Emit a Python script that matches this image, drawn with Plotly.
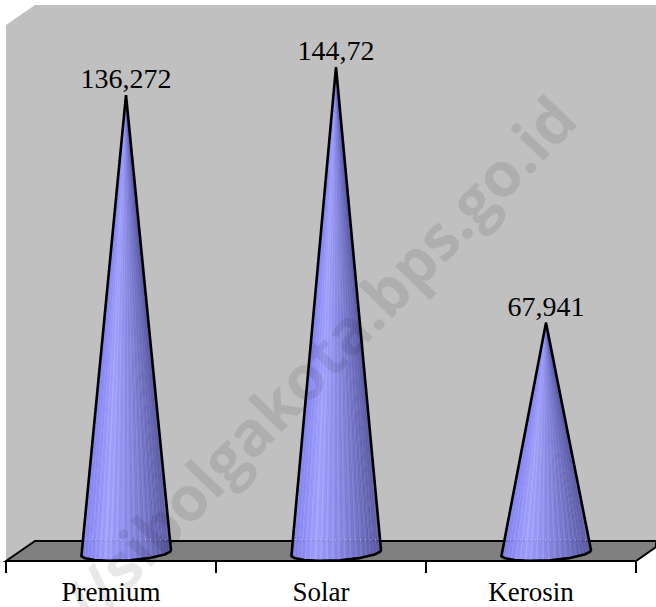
import numpy as np
import plotly.graph_objects as go

categories = ["Premium", "Solar", "Kerosin"]
values = [136.272, 144.72, 67.941]
value_labels = ["136,272", "144,72", "67,941"]
tick_edges = [-0.5, 0.5, 1.5, 2.5]

W, H = 656, 607
AXIS_PX = 561
PX_PER_UNIT = 3.33
ZERO_PX = 549
SERIF = "Liberation Serif"


def px_x(p):
    return p / W


def px_y(p):
    return 1 - p / H


y_top = ZERO_PX / PX_PER_UNIT
y_bot = (ZERO_PX - AXIS_PX) / PX_PER_UNIT
x_left = -111 / 210
x_right = (W - 111) / 210

stops = [(0.0, (125, 125, 240)), (0.28, (158, 158, 255)), (0.6, (128, 128, 218)), (1.0, (85, 85, 160))]


def grad(t, lift=0):
    ts = [s[0] for s in stops]
    c = [min(255, np.interp(t, ts, [s[1][i] for s in stops]) + lift) for i in range(3)]
    return "rgb(%d,%d,%d)" % tuple(int(round(v)) for v in c)


CX = 15 / 210
HALF = 45 / 210
BASE = -3.5 / PX_PER_UNIT
TILT = 2.5 / PX_PER_UNIT
DEPTH = 8 / PX_PER_UNIT

fig = go.Figure()


def arc(t):
    return -HALF * np.cos(t), BASE + TILT * np.cos(t) * -1 - DEPTH * np.sin(t)


for i, v in enumerate(values):
    cx = i + CX
    n = 70
    ts = np.linspace(0, np.pi, n + 1)
    ax, ay = arc(ts)
    for k in range(n):
        tt = (ax[k] + ax[k + 1]) / 2 / (2 * HALF) + 0.5
        col = grad(tt, 14 if k % 3 == 0 else 0)
        fig.add_trace(go.Scatter(
            x=[cx, cx + ax[k], cx + ax[k + 1], cx], y=[v, ay[k], ay[k + 1], v],
            mode="lines", fill="toself", fillcolor=col,
            line=dict(color=col, width=0.4), hoverinfo="skip",
            showlegend=False, cliponaxis=False))
    # floor edge showing through the cone
    fig.add_trace(go.Scatter(
        x=[cx - 0.195, cx + 0.195], y=[(ZERO_PX - 540) / PX_PER_UNIT] * 2,
        mode="lines", line=dict(color="rgba(215,215,235,0.75)", width=1, dash="1px 4px"),
        hoverinfo="skip", showlegend=False, cliponaxis=False))
    # outline
    fig.add_trace(go.Scatter(
        x=np.concatenate([[cx], cx + ax, [cx]]), y=np.concatenate([[v], ay, [v]]),
        mode="lines", line=dict(color="black", width=2.6),
        hoverinfo="skip", showlegend=False, cliponaxis=False))

fig.add_trace(go.Scatter(
    x=[i + CX for i in range(3)], y=values, mode="text", text=value_labels,
    textposition="top center", textfont=dict(family=SERIF, size=28, color="black"),
    hoverinfo="skip", showlegend=False, cliponaxis=False))

wall = [(6, 25), (35, 5), (W, 5), (W, 541), (35, 541), (6, 561)]
floor = [(6, 561), (35, 541), (W, 541), (W, 547), (636, 561)]


def poly(pts):
    return "M " + " L ".join(f"{px_x(a):.5f},{px_y(b):.5f}" for a, b in pts) + " Z"


shapes = [
    dict(type="path", xref="paper", yref="paper", path=poly(wall), fillcolor="#c0c0c0", line_width=0, layer="below"),
    dict(type="path", xref="paper", yref="paper", path=poly(floor), fillcolor="#808080",
         line=dict(color="black", width=2), layer="below"),
]

fig.update_layout(
    width=W, height=H, autosize=False, margin=dict(l=0, r=0, t=0, b=0),
    paper_bgcolor="white", plot_bgcolor="rgba(0,0,0,0)", shapes=shapes, showlegend=False,
    xaxis=dict(domain=[0, 1], range=[x_left, x_right], tickmode="array", tickvals=[0, 1, 2],
               ticktext=categories, ticks="outside", ticklen=7, tickcolor="rgba(0,0,0,0)",
               tickfont=dict(family=SERIF, size=27, color="black"), showgrid=False, zeroline=False,
               showline=False, automargin=False),
    xaxis2=dict(domain=[0, 1], range=[x_left, x_right], overlaying="x", anchor="y", side="bottom",
                tickmode="array", tickvals=tick_edges, ticktext=["", "", "", ""], ticks="outside",
                ticklen=11, tickwidth=2, tickcolor="black", showgrid=False, zeroline=False,
                showline=False, automargin=False),
    yaxis=dict(domain=[1 - AXIS_PX / H, 1], range=[y_bot, y_top], visible=False, fixedrange=True),
    annotations=[dict(text="//sibolgakota.bps.go.id", xref="paper", yref="paper",
                      x=px_x(318), y=px_y(360), showarrow=False, textangle=-46,
                      font=dict(family="Open Sans", size=62, color="rgba(0,0,0,0.09)", weight="bold"))],
)
fig.add_trace(go.Scatter(x=[0], y=[0], xaxis="x2", mode="markers", marker=dict(opacity=0),
                         hoverinfo="skip", showlegend=False))
fig.write_html("out.html", config=dict(displayModeBar=False),
               post_script="document.body.style.margin='0';document.documentElement.style.overflow='hidden';")
